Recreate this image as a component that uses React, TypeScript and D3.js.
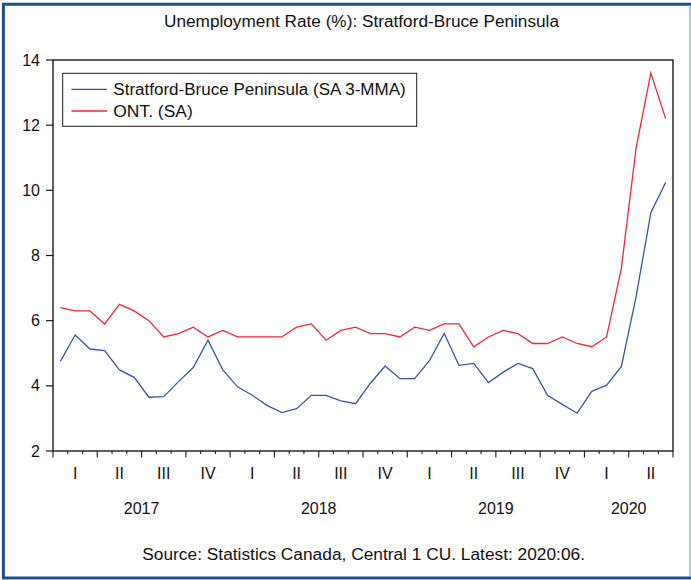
import React from "react";
import * as d3 from "d3";

const years = ["2017", "2018", "2019", "2020"];
const quarterLabels = ["I", "II", "III", "IV"];
const yTicks = [2, 4, 6, 8, 10, 12, 14];
const monthCount = 42; // 2017:01 .. 2020:06

const stratford = [
  4.75, 5.56, 5.13, 5.08, 4.49, 4.26, 3.65, 3.67, 4.13, 4.56, 5.4, 4.49,
  3.97, 3.71, 3.4, 3.18, 3.3, 3.71, 3.71, 3.54, 3.45, 4.08, 4.61, 4.22,
  4.22, 4.77, 5.61, 4.63, 4.69, 4.1, 4.42, 4.69, 4.53, 3.71, 3.43, 3.16,
  3.83, 4.02, 4.59, 6.74, 9.31, 10.24,
];
const ontario = [
  6.4, 6.3, 6.3, 5.9, 6.5, 6.3, 6.0, 5.5, 5.6, 5.8, 5.5, 5.7,
  5.5, 5.5, 5.5, 5.5, 5.8, 5.9, 5.4, 5.7, 5.8, 5.6, 5.6, 5.5,
  5.8, 5.7, 5.9, 5.9, 5.2, 5.5, 5.7, 5.6, 5.3, 5.3, 5.5, 5.3,
  5.2, 5.5, 7.6, 11.3, 13.6, 12.2,
];
const seriesNames = ["Stratford-Bruce Peninsula (SA 3-MMA)", "ONT. (SA)"];
const seriesColors = ["#3a55a8", "#f0283a"];
const title = "Unemployment Rate (%): Stratford-Bruce Peninsula";
const source = "Source: Statistics Canada, Central 1 CU. Latest: 2020:06.";

const FONT = "'Liberation Sans', Arial, sans-serif";

export default function App() {
  const W = 691, H = 580;
  const L = 53, R = 673, T = 60, B = 451;
  const x = d3.scaleLinear().domain([0, monthCount]).range([L, R]);
  const y = d3.scaleLinear().domain([2, 14]).range([B, T]);
  const line = d3
    .line<number>()
    .x((_, i) => x(i + 0.5))
    .y((d) => y(d));

  const ticks = d3.range(0, monthCount + 1);
  const quarters = d3.range(0, monthCount / 3);

  return (
    <svg
      width={W}
      height={H}
      style={{ position: "absolute", left: 0, top: 0, background: "#fff" }}
      fontFamily={FONT}
    >
      <rect x={0} y={0} width={W} height={H} fill="#fff" />
      {/* outer frame */}
      <line x1={2} x2={691} y1={4.2} y2={4.2} stroke="#1c4f8c" strokeWidth={3} />
      <line x1={3.4} x2={3.4} y1={3} y2={579} stroke="#1c4f8c" strokeWidth={3} />
      <line x1={2} x2={691} y1={578} y2={578} stroke="#1c4f8c" strokeWidth={3} />
      <line x1={690} x2={690} y1={5} y2={577} stroke="#7f9fc8" strokeWidth={1.2} />

      <text x={164} y={27} fontSize={16} textLength={395} lengthAdjust="spacingAndGlyphs" fill="#111">
        {title}
      </text>

      {/* plot frame */}
      <rect x={L} y={T} width={R - L} height={B - T} fill="none" stroke="#1a1a1a" strokeWidth={1.4} />

      {/* y axis */}
      {yTicks.map((t) => (
        <g key={t}>
          <line x1={L - 7} x2={L} y1={y(t)} y2={y(t)} stroke="#1a1a1a" strokeWidth={1.2} />
          <text x={40} y={y(t) + 5.5} fontSize={16} textAnchor="end" fill="#111">
            {t}
          </text>
        </g>
      ))}

      {/* x axis ticks */}
      {ticks.map((k) => (
        <line
          key={k}
          x1={x(k)}
          x2={x(k)}
          y1={B}
          y2={B + (k % 3 === 0 ? 6.5 : 3)}
          stroke="#1a1a1a"
          strokeWidth={1.1}
        />
      ))}
      {quarters.map((q) => (
        <text key={q} x={x(q * 3 + 1.5)} y={479} fontSize={16} textAnchor="middle" fill="#111">
          {quarterLabels[q % 4]}
        </text>
      ))}
      {years.map((yr, i) => {
        const start = i * 12;
        const end = Math.min(start + 12, monthCount);
        return (
          <text key={yr} x={x((start + end) / 2)} y={514} fontSize={16} textAnchor="middle" fill="#111">
            {yr}
          </text>
        );
      })}

      {/* series */}
      <path d={line(ontario) || ""} fill="none" stroke={seriesColors[1]} strokeWidth={1.3} />
      <path d={line(stratford) || ""} fill="none" stroke={seriesColors[0]} strokeWidth={1.3} />

      {/* legend */}
      <rect x={62.7} y={73.3} width={354} height={53} fill="#fff" stroke="#1a1a1a" strokeWidth={1} />
      <line x1={71.5} x2={107} y1={89.3} y2={89.3} stroke={seriesColors[0]} strokeWidth={1.3} />
      <line x1={71.5} x2={107} y1={111} y2={111} stroke={seriesColors[1]} strokeWidth={1.3} />
      <text x={113.3} y={95} fontSize={16} textLength={292.4} lengthAdjust="spacingAndGlyphs" fill="#111">
        {seriesNames[0]}
      </text>
      <text x={113.3} y={116.7} fontSize={16} textLength={79.4} lengthAdjust="spacingAndGlyphs" fill="#111">
        {seriesNames[1]}
      </text>

      <text x={142.3} y={560} fontSize={16} textLength={442.7} lengthAdjust="spacingAndGlyphs" fill="#111">
        {source}
      </text>
    </svg>
  );
}
